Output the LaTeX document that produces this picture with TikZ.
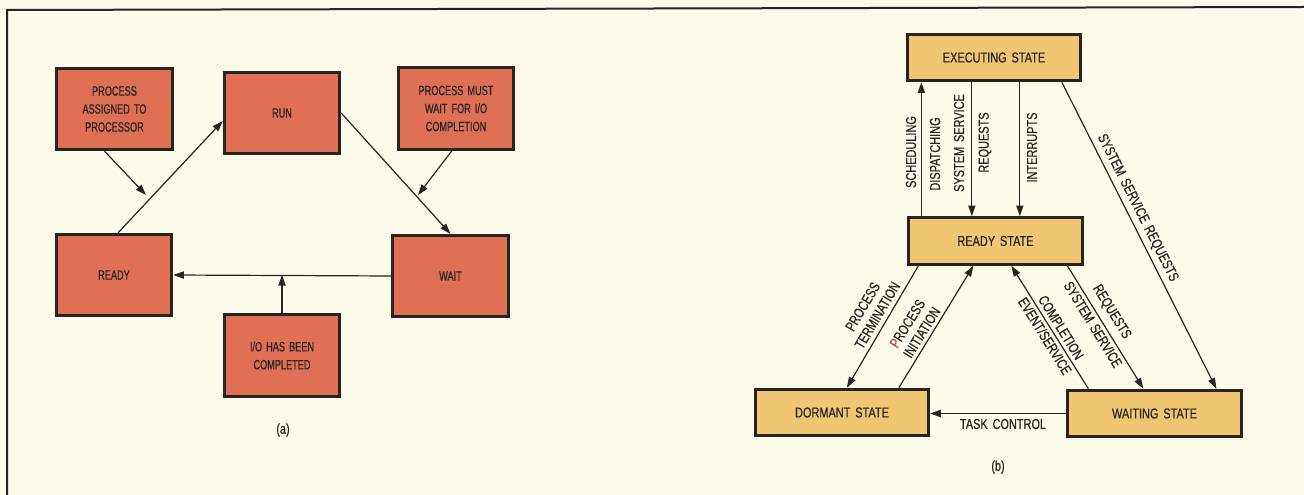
\documentclass[tikz,border=0pt]{standalone}
\usepackage{fontspec}
\newfontfamily\fa[FakeStretch=0.68,FakeBold=0.5,WordSpace=1.6]{Liberation Sans}
\newfontfamily\fb[FakeStretch=0.76,FakeBold=0.5,WordSpace=1.6]{Liberation Sans}
\usetikzlibrary{arrows.meta,calc}
\definecolor{bg}{RGB}{252,250,233}
\definecolor{redbox}{RGB}{224,112,85}
\definecolor{yelbox}{RGB}{240,198,115}
\definecolor{ink}{RGB}{40,36,34}
\definecolor{redP}{RGB}{190,70,70}
\begin{document}
\begin{tikzpicture}[x=0.75pt,y=-0.75pt,
 boxa/.style={draw=ink,line width=2.2pt,fill=redbox,minimum width=86.6pt,minimum height=61pt,align=center,font=\fa\fontsize{10.1}{13.5}\selectfont,text=ink,inner sep=0pt},
 boxb/.style={draw=ink,line width=2.2pt,fill=yelbox,minimum width=130pt,minimum height=35pt,align=center,font=\fb\fontsize{10.8}{12.75}\selectfont,text=ink,inner sep=0pt},
 conn/.style={draw=ink,line width=0.9pt},
 arr/.style={conn,-{Triangle[length=8pt,width=5.4pt]}},
 lbl/.style={font=\fb\fontsize{10.8}{12.75}\selectfont,text=ink,align=center,inner sep=0pt},
]
\fill[bg] (0,0) rectangle (1304,495);
\useasboundingbox (0,0) rectangle (1304,495);
\draw[ink,line width=1.5pt] (7,495) -- (7,10) -- (1304,7);

% ---------- (a) ----------
\node[boxa] (pa) at (114.5,109) {PROCESS\\ASSIGNED TO\\PROCESSOR};
\node[boxa] (run) at (282,113) {RUN};
\node[boxa] (pm) at (456,108.5) {PROCESS MUST\\WAIT FOR I/O\\COMPLETION};
\node[boxa] (ready) at (114,275) {READY};
\node[boxa] (wait) at (450.5,276) {WAIT};
\node[boxa] (io) at (282,355.5) {I/O HAS BEEN\\COMPLETED};
\node[lbl] (capa) at (283,430) {(a)};

\coordinate (t1) at (146,195);
\coordinate (t2) at (418,195);
\draw[arr] ($(ready.north)+(4,0)$) -- ($(run.west)+(0,8)$);
\draw[arr] ($(pa.south)+(-10,0)$) -- (t1);
\draw[arr] (run.east) -- (wait.north);
\draw[arr] ($(pm.south)+(-4,0)$) -- (t2);
\draw[arr] (wait.west) -- (ready.east);
\draw[arr] (io.north) -- (io.north |- ready.east);

% ---------- (b) ----------
\node[boxb] (exec) at (994,57.5) {EXECUTING STATE};
\node[boxb] (rdy) at (995.5,241) {READY STATE};
\node[boxb] (dorm) at (842,412.5) {DORMANT STATE};
\node[boxb] (wtg) at (1154.5,413.5) {WAITING STATE};

\path ($(rdy.north west)+(14,0)$) coordinate (sA)
      ($(exec.south west)+(66,0)$) coordinate (sB)
      ($(exec.south west)+(114,0)$) coordinate (sC);
\draw[arr] (sA) -- (sA |- exec.south);
\draw[arr] (sB) -- (sB |- rdy.north);
\draw[arr] (sC) -- (sC |- rdy.north);
\draw[arr] ($(exec.south west)+(156,0)$) -- ($(wtg.north west)+(150,0)$);
\draw[arr] ($(rdy.south west)+(11,0)$) -- ($(dorm.north west)+(93,0)$);
\draw[arr] ($(dorm.north west)+(145,0)$) -- ($(rdy.south west)+(66,0)$);
\draw[arr] ($(wtg.north west)+(22,0)$) -- ($(rdy.south west)+(104,0)$);
\draw[arr] ($(rdy.south west)+(160,0)$) -- ($(wtg.north west)+(77,0)$);
\draw[arr] (wtg.west) -- (wtg.west -| dorm.east);

\node[lbl,rotate=90] (lsch) at (911,152) {SCHEDULING};
\node[lbl,rotate=90] (ldis) at (935,154) {DISPATCHING};
\node[lbl,rotate=90] (lss1) at (959,143) {SYSTEM SERVICE};
\node[lbl,rotate=90] (lrq1) at (985,142.5) {REQUESTS};
\node[lbl,rotate=90] (lint) at (1032,147.5) {INTERRUPTS};
\node[lbl,rotate=-63.2] (lssr) at (1137.5,208) {SYSTEM SERVICE REQUESTS};
\node[lbl,rotate=59.4] (lterm) at (870,311) {PROCESS\\TERMINATION};
\node[lbl,rotate=58] (linit) at (914.6,328) {{\color{redP}P}ROCESS\\INITIATION};
\node[lbl,rotate=-58.2] (lcomp) at (1061,327.5) {COMPLETION};
\node[lbl,rotate=-58.2] (levt) at (1045,336) {EVENT/SERVICE};
\node[lbl,rotate=-58.5] (lrq2) at (1111.5,312) {REQUESTS};
\node[lbl,rotate=-58.5] (lss2) at (1093,324.5) {SYSTEM SERVICE};
\node[lbl] (ltask) at (1003,424) {TASK CONTROL};
\node[lbl] (capb) at (998,467) {(b)};
\end{tikzpicture}
\end{document}
